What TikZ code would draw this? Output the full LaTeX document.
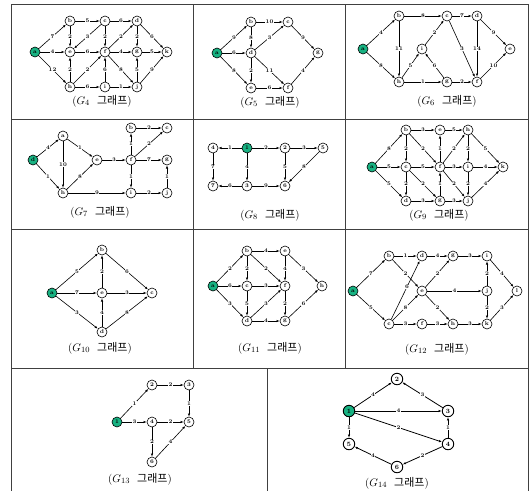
\documentclass[tikz,border=0pt]{standalone}
\usepackage{fontspec}
\newfontfamily\kr{Noto Sans CJK KR}
\usetikzlibrary{arrows.meta}
\definecolor{startgreen}{RGB}{24,178,130}
\tikzset{
 vtx/.style={circle, draw, line width=0.6pt, fill=white, minimum size=10pt, inner sep=0pt, font=\fontsize{5.5}{5.5}\selectfont\bfseries},
 src/.style={vtx, fill=startgreen},
 bvtx/.style={vtx, minimum size=11.5pt, line width=0.9pt, font=\fontsize{6.5}{6.5}\selectfont\bfseries},
 bsrc/.style={bvtx, fill=startgreen},
 ed/.style={-{Latex[length=3.2pt,width=2.4pt]}, line width=0.6pt},
 bed/.style={ed, line width=0.8pt},
 wt/.style={fill=white, inner sep=0.4pt, font=\fontsize{5.5}{5.5}\selectfont\bfseries},
 capn/.style={font=\fontsize{11}{13}\selectfont, inner sep=0pt},
 frm/.style={line width=0.8pt, draw=black!75}
}
\newcommand{\capt}[1]{($G_{#1}$\ \ {\kr 그래프})}
\begin{document}
\begin{tikzpicture}[x=1pt,y=-1pt]
\useasboundingbox (0,0) rectangle (530,491);
% frame
\draw[frm] (11,4) -- (528,4);
\draw[frm] (11,119) -- (528,119);
\draw[frm] (11,229) -- (528,229);
\draw[frm] (11,368) -- (528,368);
\draw[frm] (11,4) -- (11,491);
\draw[frm] (528,4) -- (528,491);
\draw[frm] (193,4) -- (193,368);
\draw[frm] (345,4) -- (345,368);
\draw[frm] (267,368) -- (267,491);

% ---------- G4 ----------
\node[src] (g4a) at (35,52) {a};
\node[vtx] (g4b) at (70,21) {b};
\node[vtx] (g4c) at (105,21) {c};
\node[vtx] (g4d) at (137,21) {d};
\node[vtx] (g4e) at (70,52) {e};
\node[vtx] (g4f) at (105,52) {f};
\node[vtx] (g4g) at (137,52) {g};
\node[vtx] (g4k) at (167,52) {k};
\node[vtx] (g4h) at (70,87) {h};
\node[vtx] (g4i) at (105,87) {i};
\node[vtx] (g4j) at (137,87) {j};
\draw[ed] (g4a) -- node[wt]{7} (g4b);
\draw[ed] (g4a) -- node[wt]{4} (g4e);
\draw[ed] (g4a) -- node[wt]{12} (g4h);
\draw[ed] (g4b) -- node[wt]{5} (g4c);
\draw[ed] (g4b) -- node[wt]{2} (g4e);
\draw[ed] (g4c) -- node[wt]{3} (g4e);
\draw[ed] (g4c) -- node[wt]{6} (g4d);
\draw[ed] (g4c) -- node[wt]{2} (g4f);
\draw[ed] (g4d) -- node[wt]{2} (g4g);
\draw[ed] (g4d) -- node[wt]{6} (g4k);
\draw[ed] (g4f) -- node[wt]{2} (g4d);
\draw[ed] (g4e) -- node[wt]{6} (g4f);
\draw[ed] (g4f) -- node[wt]{4} (g4g);
\draw[ed] (g4g) -- node[wt]{5} (g4k);
\draw[ed] (g4h) -- node[wt]{2} (g4e);
\draw[ed] (g4h) -- node[wt]{2} (g4f);
\draw[ed] (g4h) -- node[wt]{6} (g4i);
\draw[ed] (g4i) -- node[wt]{6} (g4f);
\draw[ed] (g4i) -- node[wt]{1} (g4j);
\draw[ed] (g4f) -- node[wt]{8} (g4j);
\draw[ed] (g4j) -- node[wt]{5} (g4g);
\draw[ed] (g4j) -- node[wt]{9} (g4k);
\node[capn] (c4) at (102,101) {\capt{4}};

% ---------- G5 ----------
\node[src] (g5a) at (217,53) {a};
\node[vtx] (g5b) at (251,22) {b};
\node[vtx] (g5c) at (288,22) {c};
\node[vtx] (g5d) at (251,53) {d};
\node[vtx] (g5e) at (251,88) {e};
\node[vtx] (g5f) at (288,88) {f};
\node[vtx] (g5g) at (318,53) {g};
\draw[ed] (g5a) -- node[wt]{9} (g5b);
\draw[ed] (g5a) -- node[wt]{6} (g5d);
\draw[ed] (g5a) -- node[wt]{8} (g5e);
\draw[ed] (g5b) -- node[wt]{10} (g5c);
\draw[ed] (g5b) -- node[wt]{8} (g5d);
\draw[ed] (g5d) -- node[wt]{3} (g5c);
\draw[ed] (g5d) -- node[wt]{2} (g5e);
\draw[ed] (g5d) -- node[wt]{11} (g5f);
\draw[ed] (g5c) -- node[wt]{9} (g5g);
\draw[ed] (g5e) -- node[wt]{6} (g5f);
\draw[ed] (g5f) -- node[wt]{4} (g5g);
\node[capn] (c5) at (270,102) {\capt{5}};

% ---------- G6 ----------
\node[src] (g6a) at (363,49) {a};
\node[vtx] (g6b) at (399,16) {b};
\node[vtx] (g6c) at (447,16) {c};
\node[vtx] (g6d) at (477,16) {d};
\node[vtx] (g6e) at (510,49) {e};
\node[vtx] (g6i) at (422,49) {i};
\node[vtx] (g6h) at (399,82) {h};
\node[vtx] (g6g) at (447,82) {g};
\node[vtx] (g6f) at (477,82) {f};
\draw[ed] (g6a) -- node[wt]{4} (g6b);
\draw[ed] (g6a) -- node[wt]{8} (g6h);
\draw[ed] (g6b) -- node[wt]{8} (g6c);
\draw[ed] (g6b) -- node[wt]{11} (g6h);
\draw[ed] (g6c) -- node[wt]{7} (g6d);
\draw[ed] (g6c) -- node[wt]{3} (g6f);
\draw[ed] (g6d) -- node[wt]{9} (g6e);
\draw[ed] (g6d) -- node[wt]{14} (g6f);
\draw[ed] (g6f) -- node[wt]{10} (g6e);
\draw[ed] (g6h) -- node[wt]{5} (g6i);
\draw[ed] (g6i) -- node[wt]{2} (g6c);
\draw[ed] (g6g) -- node[wt]{6} (g6i);
\draw[ed] (g6h) -- node[wt]{1} (g6g);
\draw[ed] (g6g) -- node[wt]{2} (g6f);
\node[capn] (c6) at (447,101) {\capt{6}};

% ---------- G7 ----------
\node[src] (g7d) at (33,160) {d};
\node[vtx] (g7a) at (63,136) {a};
\node[vtx] (g7e) at (97,160) {e};
\node[vtx] (g7h) at (63,193) {h};
\node[vtx] (g7f) at (131,160) {f};
\node[vtx] (g7b) at (131,128) {b};
\node[vtx] (g7c) at (167,128) {c};
\node[vtx] (g7g) at (167,160) {g};
\node[vtx] (g7i) at (131,193) {i};
\node[vtx] (g7j) at (167,193) {j};
\draw[ed] (g7d) -- node[wt]{4} (g7a);
\draw[ed] (g7d) -- node[wt]{1} (g7h);
\draw[ed] (g7a) -- node[wt]{10} (g7h);
\draw[ed] (g7a) -- node[wt]{1} (g7e);
\draw[ed] (g7h) -- node[wt]{8} (g7e);
\draw[ed] (g7e) -- node[wt]{3} (g7f);
\draw[ed] (g7f) -- node[wt]{1} (g7b);
\draw[ed] (g7b) -- node[wt]{2} (g7c);
\draw[ed] (g7f) -- node[wt]{2} (g7c);
\draw[ed] (g7f) -- node[wt]{7} (g7g);
\draw[ed] (g7f) -- node[wt]{1} (g7i);
\draw[ed] (g7h) -- node[wt]{9} (g7i);
\draw[ed] (g7i) -- node[wt]{2} (g7j);
\draw[ed] (g7j) -- node[wt]{1} (g7g);
\node[capn] (c7) at (100,212) {\capt{7}};

% ---------- G8 ----------
\node[vtx] (g8n4) at (213,148) {4};
\node[src] (g8n1) at (247,148) {1};
\node[vtx] (g8n2) at (285,148) {2};
\node[vtx] (g8n5) at (323,148) {5};
\node[vtx] (g8n7) at (213,186) {7};
\node[vtx] (g8n3) at (247,186) {3};
\node[vtx] (g8n6) at (285,186) {6};
\draw[ed] (g8n1) -- node[wt]{1} (g8n4);
\draw[ed] (g8n1) -- node[wt]{2} (g8n2);
\draw[ed] (g8n2) -- node[wt]{3} (g8n5);
\draw[ed] (g8n4) -- node[wt]{7} (g8n7);
\draw[ed] (g8n1) -- node[wt]{4} (g8n3);
\draw[ed] (g8n2) -- node[wt]{5} (g8n6);
\draw[ed] (g8n5) -- node[wt]{8} (g8n6);
\draw[ed] (g8n3) -- node[wt]{6} (g8n7);
\draw[ed] (g8n3) -- node[wt]{9} (g8n6);
\node[capn] (c8) at (270,215) {\capt{8}};

% ---------- G9 ----------
\node[src] (g9a) at (372,167) {a};
\node[vtx] (g9b) at (406,130) {b};
\node[vtx] (g9e) at (440,130) {e};
\node[vtx] (g9h) at (468,130) {h};
\node[vtx] (g9c) at (406,167) {c};
\node[vtx] (g9f) at (440,167) {f};
\node[vtx] (g9i) at (468,167) {i};
\node[vtx] (g9k) at (503,167) {k};
\node[vtx] (g9d) at (406,201) {d};
\node[vtx] (g9g) at (440,201) {g};
\node[vtx] (g9j) at (468,201) {j};
\draw[ed] (g9a) -- node[wt]{8} (g9b);
\draw[ed] (g9a) -- node[wt]{5} (g9c);
\draw[ed] (g9a) -- node[wt]{5} (g9d);
\draw[ed] (g9b) -- node[wt]{3} (g9e);
\draw[ed] (g9b) -- node[wt]{2} (g9c);
\draw[ed] (g9b) -- node[wt]{2} (g9f);
\draw[ed] (g9e) -- node[wt]{5} (g9h);
\draw[ed] (g9f) -- node[wt]{1} (g9e);
\draw[ed] (g9f) -- node[wt]{2} (g9h);
\draw[ed] (g9h) -- node[wt]{2} (g9i);
\draw[ed] (g9h) -- node[wt]{5} (g9k);
\draw[ed] (g9c) -- node[wt]{5} (g9f);
\draw[ed] (g9f) -- node[wt]{3} (g9i);
\draw[ed] (g9i) -- node[wt]{4} (g9k);
\draw[ed] (g9c) -- node[wt]{2} (g9d);
\draw[ed] (g9c) -- node[wt]{2} (g9g);
\draw[ed] (g9g) -- node[wt]{1} (g9f);
\draw[ed] (g9f) -- node[wt]{2} (g9j);
\draw[ed] (g9i) -- node[wt]{2} (g9j);
\draw[ed] (g9d) -- node[wt]{3} (g9g);
\draw[ed] (g9g) -- node[wt]{3} (g9j);
\draw[ed] (g9j) -- node[wt]{4} (g9k);
\node[capn] (c9) at (439,215) {\capt{9}};

% ---------- G10 ----------
\node[src] (g10a) at (52,293) {a};
\node[vtx] (g10b) at (102,250) {b};
\node[vtx] (g10e) at (102,293) {e};
\node[vtx] (g10c) at (152,293) {c};
\node[vtx] (g10d) at (102,332) {d};
\draw[ed] (g10a) -- node[wt]{5} (g10b);
\draw[ed] (g10a) -- node[wt]{7} (g10e);
\draw[ed] (g10a) -- node[wt]{3} (g10d);
\draw[ed] (g10b) -- node[wt]{6} (g10c);
\draw[ed] (g10e) -- node[wt]{2} (g10b);
\draw[ed] (g10e) -- node[wt]{3} (g10c);
\draw[ed] (g10d) -- node[wt]{4} (g10e);
\draw[ed] (g10d) -- node[wt]{8} (g10c);
\node[capn] (c10) at (100,348) {\capt{10}};

% ---------- G11 ----------
\node[src] (g11a) at (213,286) {a};
\node[vtx] (g11b) at (247,251) {b};
\node[vtx] (g11e) at (285,251) {e};
\node[vtx] (g11c) at (247,286) {c};
\node[vtx] (g11f) at (285,286) {f};
\node[vtx] (g11h) at (322,286) {h};
\node[vtx] (g11d) at (247,321) {d};
\node[vtx] (g11g) at (285,321) {g};
\draw[ed] (g11a) -- node[wt]{2} (g11b);
\draw[ed] (g11a) -- node[wt]{6} (g11c);
\draw[ed] (g11a) -- node[wt]{3} (g11d);
\draw[ed] (g11b) -- node[wt]{4} (g11e);
\draw[ed] (g11b) -- node[wt]{2} (g11c);
\draw[ed] (g11b) -- node[wt]{2} (g11f);
\draw[ed] (g11e) -- node[wt]{4} (g11f);
\draw[ed] (g11e) -- node[wt]{3} (g11h);
\draw[ed] (g11c) -- node[wt]{3} (g11f);
\draw[ed] (g11c) -- node[wt]{5} (g11d);
\draw[ed] (g11d) -- node[wt]{3} (g11f);
\draw[ed] (g11f) -- node[wt]{2} (g11g);
\draw[ed] (g11d) -- node[wt]{4} (g11g);
\draw[ed] (g11g) -- node[wt]{6} (g11h);
\node[capn] (c11) at (270,348) {\capt{11}};

% ---------- G12 ----------
\node[src] (g12a) at (353,291) {a};
\node[vtx] (g12b) at (389,256) {b};
\node[vtx] (g12d) at (422,256) {d};
\node[vtx] (g12g) at (453,256) {g};
\node[vtx] (g12i) at (487,256) {i};
\node[vtx] (g12e) at (422,291) {e};
\node[vtx] (g12j) at (487,291) {j};
\node[vtx] (g12l) at (517,291) {l};
\node[vtx] (g12c) at (389,324) {c};
\node[vtx] (g12f) at (422,324) {f};
\node[vtx] (g12h) at (453,324) {h};
\node[vtx] (g12k) at (487,324) {k};
\draw[ed] (g12a) -- node[wt]{7} (g12b);
\draw[ed] (g12a) -- node[wt]{5} (g12c);
\draw[ed] (g12b) -- node[wt]{1} (g12d);
\draw[ed] (g12b) -- node[wt]{2} (g12e);
\draw[ed] (g12d) -- node[wt]{4} (g12g);
\draw[ed] (g12g) -- node[wt]{3} (g12i);
\draw[ed] (g12e) -- node[wt]{2} (g12g);
\draw[ed] (g12c) -- node[wt,pos=0.55]{6} (g12d);
\draw[ed] (g12c) -- node[wt]{8} (g12e);
\draw[ed] (g12c) -- node[wt]{3} (g12f);
\draw[ed] (g12f) -- node[wt]{3} (g12h);
\draw[ed] (g12h) -- node[wt]{3} (g12k);
\draw[ed] (g12e) -- node[wt]{4} (g12j);
\draw[ed] (g12e) -- node[wt]{2} (g12h);
\draw[ed] (g12j) -- node[wt]{2} (g12i);
\draw[ed] (g12j) -- node[wt]{2} (g12k);
\draw[ed] (g12i) -- node[wt]{4} (g12l);
\draw[ed] (g12k) -- node[wt]{3} (g12l);
\node[capn] (c12) at (437,349) {\capt{12}};

% ---------- G13 ----------
\node[vtx] (g13n2) at (152,385) {2};
\node[vtx] (g13n3) at (189,385) {3};
\node[src] (g13n1) at (117,422) {1};
\node[vtx] (g13n4) at (152,422) {4};
\node[vtx] (g13n5) at (189,422) {5};
\node[vtx] (g13n6) at (152,462) {6};
\draw[ed] (g13n1) -- node[wt]{1} (g13n2);
\draw[ed] (g13n2) -- node[wt]{2} (g13n3);
\draw[ed] (g13n3) -- node[wt]{1} (g13n5);
\draw[ed] (g13n1) -- node[wt]{3} (g13n4);
\draw[ed] (g13n4) -- node[wt]{2} (g13n5);
\draw[ed] (g13n4) -- node[wt]{2} (g13n6);
\draw[ed] (g13n6) -- node[wt]{4} (g13n5);
\node[capn] (c13) at (140,479) {\capt{13}};

% ---------- G14 ----------
\node[bvtx] (g14n2) at (397,379) {2};
\node[bsrc] (g14n1) at (349,411) {1};
\node[bvtx] (g14n3) at (448,411) {3};
\node[bvtx] (g14n5) at (349,444) {5};
\node[bvtx] (g14n4) at (448,444) {4};
\node[bvtx] (g14n6) at (397,467) {6};
\draw[bed] (g14n1) -- node[wt]{4} (g14n2);
\draw[bed] (g14n3) -- node[wt]{3} (g14n2);
\draw[bed] (g14n1) -- node[wt]{4} (g14n3);
\draw[bed] (g14n1) -- node[wt]{1} (g14n5);
\draw[bed] (g14n1) -- node[wt]{2} (g14n4);
\draw[bed] (g14n4) -- node[wt]{1} (g14n3);
\draw[bed] (g14n4) -- node[wt]{2} (g14n6);
\draw[bed] (g14n6) -- node[wt]{4} (g14n5);
\node[capn] (c14) at (397,483) {\capt{14}};
\end{tikzpicture}
\end{document}
